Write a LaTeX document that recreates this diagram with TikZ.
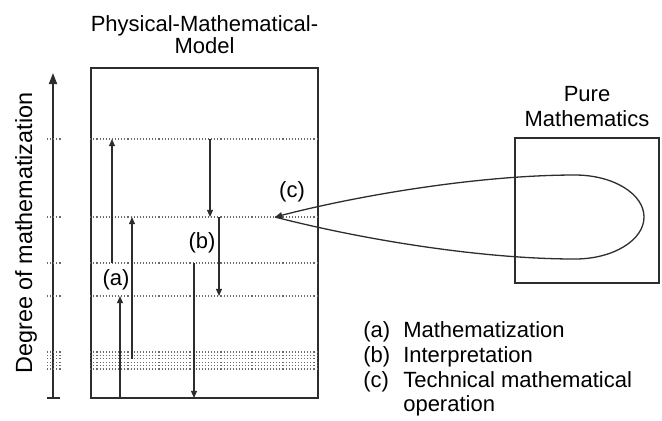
\documentclass[tikz,border=0pt]{standalone}
\usepackage{fontspec}
\setmainfont{Liberation Sans}
\usepackage{tikz}
\usetikzlibrary{arrows.meta,positioning}
\definecolor{inkgray}{RGB}{45,45,45}
\definecolor{dotgray}{RGB}{105,105,105}
\newcommand{\figfont}{\fontsize{11}{12.35}\selectfont}
\tikzset{
  frame/.style={draw=inkgray,line width=0.8pt,inner sep=0pt},
  level/.style={draw=dotgray,line width=0.55pt,densely dotted},
  flow/.style={-{Triangle[length=3.6pt,width=3pt]},line width=0.65pt,draw=inkgray},
  axisflow/.style={{Bar[width=6.5pt]}-{Triangle[length=5.5pt,width=4pt]},
    line width=0.9pt,draw=inkgray},
  heading/.style={font=\figfont,align=center,inner sep=0pt},
  tag/.style={font=\figfont,inner sep=0pt},
  legend/.style={font=\figfont,inner sep=0pt,anchor=north west}
}

\begin{document}
\begin{tikzpicture}[x=0.5pt,y=-0.5pt]
  \useasboundingbox (0,0) rectangle (662,420);
  % the two frames
  \node[frame,minimum width=113.5pt,minimum height=165pt] (pmm) at (204.5,233) {};
  \node[frame,minimum width=72pt,minimum height=72.5pt] (pure) at (587,210.5) {};
  \node[heading,above=6.5pt of pmm,font=\fontsize{11}{11.2}\selectfont] (pmmtitle)
    {Physical-Mathematical-\\Model};
  \node[heading,above=5pt of pure] (puretitle) {Pure\\Mathematics};
  % axis
  \coordinate (axbot) at (53,399);
  \coordinate (axtop) at (53,73);
  \draw[axisflow] (axbot) -- (axtop);
  \node[tag,rotate=90,font=\fontsize{11.7}{13}\selectfont] (axlabel) at (26,233)
    {Degree of mathematization};
  % levels
  \foreach \y in {139,217,263,296,352,355.4,358.8,362.2,365.6,369}{
    \draw[level] (pmm.west |- 0,\y) -- (pmm.east |- 0,\y);
    \draw[level] (47,\y) -- (61,\y);
  }
  % mathematization and interpretation steps
  \foreach \n/\x/\ya/\yb in {a1/112/263/139,a2/132/359/217,a3/120/398/296,
                            b1/210/139/217,b2/219/217/296,b3/194/263/398}{
    \coordinate (\n-s) at (\x,\ya);
    \coordinate (\n-e) at (\x,\yb);
    \draw[flow] (\n-s) -- (\n-e);
  }
  % technical operation loop
  \coordinate (tip) at (275,217);
  \draw[flow] (tip) .. controls (360,239) and (480,259) .. (575,259)
    arc[start angle=-90,end angle=90,x radius=34.5pt,y radius=21pt]
    .. controls (480,175) and (360,195) .. (tip);
  \node[tag] (taga) at (116,280) {(a)};
  \node[tag] (tagb) at (202,243) {(b)};
  \node[tag] (tagc) at (292,192) {(c)};
  % key
  \node[legend] (key) at (363,320) {\begin{tabular}{@{}l@{\hspace{6.5pt}}l@{}}
    (a)&Mathematization\\
    (b)&Interpretation\\
    (c)&Technical mathematical\\
       &operation
  \end{tabular}};
\end{tikzpicture}
\end{document}
